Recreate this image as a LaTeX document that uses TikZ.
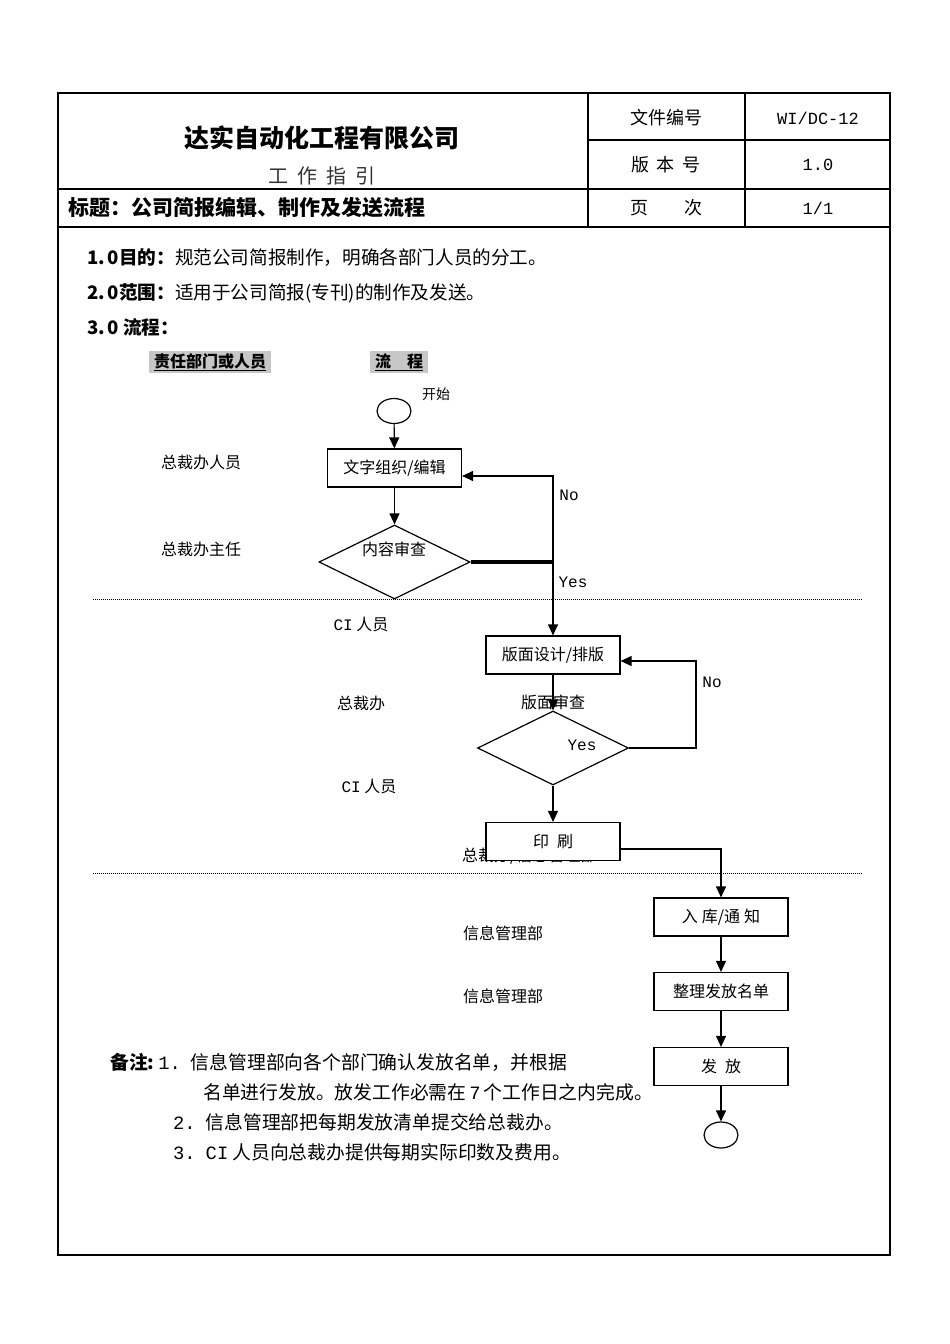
\documentclass[tikz,border=0pt]{standalone}
\usepackage{fontspec}
\setmainfont{Noto Sans CJK SC}
\setmonofont{Liberation Mono}
\usetikzlibrary{shapes.geometric,arrows.meta}

\tikzset{
	fs/.style={font=\fontsize{#1}{#1}\selectfont},
	stepbox/.style={draw,line width=1.2pt,fill=white,minimum width=134pt,minimum height=38pt,fs=16},
	checkbox/.style={draw,line width=1.2pt,shape=diamond,minimum width=151pt,minimum height=74pt},
	termbox/.style={draw,line width=1.2pt,shape=ellipse,minimum width=34pt,minimum height=25pt},
	arr/.style={line width=1.2pt,-{Triangle[length=11pt,width=10pt]}},
	lane/.style={fs=16},
	answer/.style={font=\fontsize{16}{16}\ttfamily},
	note/.style={fs=18.8,anchor=west},
}

\begin{document}
\begin{tikzpicture} [x=1pt,y=-1pt,every node/.style={inner sep=0pt}]
	\useasboundingbox (0,0) rectangle (950,1344);
	% frame and header
	\draw [line width=2.5pt] (58,93) rectangle (890,1255);
	\draw [line width=1.2pt] (588,93) -- (588,227) (745,93) -- (745,227)
		(588,140) -- (890,140) (58,189) -- (890,189) (58,227) -- (890,227);
	\node [fs=25] (company) at (322,138) {\bfseries 达实自动化工程有限公司};
	\node [fs=20,text=black!80] (guide) at (322,176) {工\hspace{9pt}作\hspace{9pt}指\hspace{9pt}引};
	\node [fs=21,anchor=west] (title) at (68,208) {\bfseries 标题：公司简报编辑、制作及发送流程};
	\node [fs=18] (docno) at (666,118) {文件编号};
	\node [fs=18] (verno) at (666,165) {版\hspace{8pt}本\hspace{8pt}号};
	\node [fs=18] (pageno) at (666,208) {页\hspace{36pt}次};
	\node [fs=17] (docval) at (818,118) {\ttfamily WI/DC-12};
	\node [fs=17] (verval) at (818,165) {\ttfamily 1.0};
	\node [fs=17] (pageval) at (818,208) {\ttfamily 1/1};

	% purpose, scope
	\node [note,fs=18.6] (aim) at (87,258) {\textbf{1.\hspace{2pt}0\hspace{1pt}目的：}规范公司简报制作，明确各部门人员的分工。};
	\node [note,fs=18.6] (scope) at (87,293) {\textbf{2.\hspace{2pt}0\hspace{1pt}范围：}适用于公司简报(专刊)的制作及发送。};
	\node [note,fs=18.6] (flowhead) at (87,327) {\textbf{3.\hspace{2pt}0\hspace{5pt}流程：}};
	\node [fs=16,fill=black!22,inner xsep=5pt,inner ysep=2pt] (colA) at (210,362) {\bfseries\underline{责任部门或人员}};
	\node [fs=16,fill=black!22,inner xsep=5pt,inner ysep=2pt] (colB) at (399,362) {\bfseries\underline{流\hspace{16pt}程}};

	% lanes
	\draw [line width=0.8pt,dash pattern=on 1pt off 1pt] (93,599) -- (862,599) (93,873) -- (862,873);
	\node [lane] (l1) at (201,462) {总裁办人员};
	\node [lane] (l2) at (201,549) {总裁办主任};
	\node [lane] (l3) at (361,624) {\texttt{CI} 人员};
	\node [lane] (l4) at (361,703) {总裁办};
	\node [lane] (l5) at (369,786) {\texttt{CI} 人员};
	\node [lane,anchor=west] (l6) at (462,856) {总裁办/信息管理部};
	\node [lane] (l7) at (503,933) {信息管理部};
	\node [lane] (l8) at (503,996) {信息管理部};

	% flow
	\node [termbox] (start) at (394,411) {};
	\node [fs=14] (startlbl) at (436,394) {开始};
	\node [stepbox] (edit) at (394.5,468) {文字组织/编辑};
	\node [checkbox] (check1) at (394.5,562) {};
	\node [fs=16] (check1lbl) at (394,549) {内容审查};
	\coordinate (j1) at (553,562);
	\coordinate (n1) at (553,476);
	\node [stepbox] (layout) at (553,655) {版面设计/排版};
	\node [checkbox] (check2) at (553,748) {};
	\node [fs=16] (check2lbl) at (553,702) {版面审查};
	\coordinate (n2) at (696,748);
	\coordinate (n2t) at (696,661);
	\node [stepbox] (print) at (553,841.5) {印\hspace{8pt}刷};
	\coordinate (p1) at (721,849);
	\node [stepbox] (stock) at (721,917) {入\hspace{4pt}库/通\hspace{4pt}知};
	\node [stepbox] (names) at (721,991.5) {整理发放名单};
	\node [stepbox] (issue) at (721,1066.5) {发\hspace{8pt}放};
	\node [termbox,minimum height=26pt] (stop) at (721,1135) {};

	\foreach \from/\to in {start/edit,edit/check1,layout/check2,check2/print,stock/names,names/issue,issue/stop}
		\draw [arr] (\from) -- (\to);
	\draw [line width=4pt] (check1.east) -- (j1);
	\draw [arr] (j1) -- (n1) -- (edit.east |- n1);
	\draw [arr] (j1) -- (layout);
	\draw [arr] (check2.east) -- (n2) -- (n2t) -- (layout.east |- n2t);
	\draw [arr] (print.east |- p1) -- (p1) -- (stock);
	\node [answer] (no1) at (569,495) {No};
	\node [answer] (yes1) at (573,582) {Yes};
	\node [answer] (no2) at (712,682) {No};
	\node [answer] (yes2) at (582,745) {Yes};

	% notes
	\node [note] (note1) at (110,1062) {\textbf{备注:}\hspace{4pt}\texttt{1.}\hspace{10pt}信息管理部向各个部门确认发放名单，并根据};
	\node [note] (note1b) at (203,1092) {名单进行发放。放发工作必需在\hspace{3pt}\texttt{7}\hspace{3pt}个工作日之内完成。};
	\node [note] (note2) at (173,1122) {\texttt{2.}\hspace{10pt}信息管理部把每期发放清单提交给总裁办。};
	\node [note] (note3) at (173,1152) {\texttt{3.}\hspace{10pt}\texttt{CI} 人员向总裁办提供每期实际印数及费用。};
\end{tikzpicture}
\end{document}
